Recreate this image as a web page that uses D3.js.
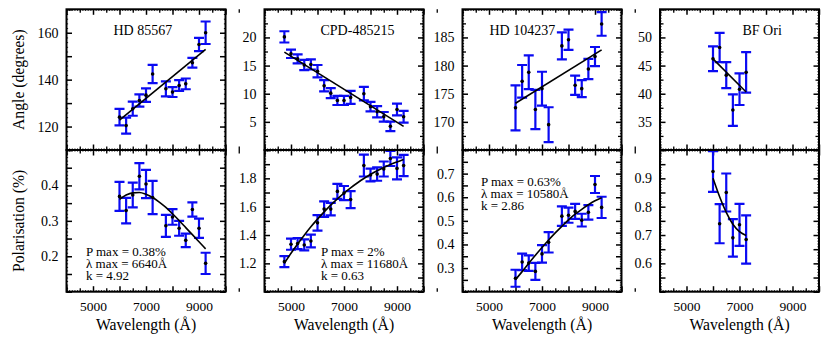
<!DOCTYPE html>
<html>
<head>
<meta charset="utf-8">
<script src="https://cdn.jsdelivr.net/npm/d3@7"></script>
<style>
  body { margin: 0; background: #fff; }
</style>
</head>
<body>
<div id="chart-area"></div>
<script>
// ---- data ----
const stars = ["HD 85567", "CPD-485215", "HD 104237", "BF Ori"]

// HD 85567
const hd85567Wave = [6000, 6250, 6500, 6750, 7000, 7250, 7750, 8000, 8250, 8500, 8750, 9000, 9250]
const hd85567Angle = [124.0, 120.4, 127.6, 131.1, 133.4, 142.4, 136.1, 134.7, 137.5, 138.2, 147.2, 155.0, 160.0]
const hd85567AngleErr = [3.5, 3.4, 3.0, 2.6, 2.9, 3.9, 3.2, 2.1, 2.3, 2.3, 2.1, 2.8, 4.8]
const hd85567Pol = [0.369, 0.329, 0.373, 0.426, 0.404, 0.366, 0.286, 0.311, 0.279, 0.245, 0.332, 0.279, 0.180]
const hd85567PolErr = [0.041, 0.036, 0.035, 0.037, 0.040, 0.047, 0.031, 0.022, 0.021, 0.019, 0.020, 0.027, 0.030]

// CPD-485215
const cpdWave = [4750, 5000, 5250, 5500, 5750, 6000, 6250, 6500, 6750, 7000, 7250, 7750, 8000, 8250, 8500, 8750, 9000, 9250]
const cpdAngle = [20.1, 17.1, 16.2, 15.1, 15.2, 14.0, 11.4, 10.1, 8.8, 8.8, 9.35, 10.0, 7.7, 6.8, 5.9, 4.2, 7.2, 5.9]
const cpdAngleErr = [1.0, 0.75, 0.8, 0.9, 0.9, 1.1, 1.0, 0.9, 0.8, 0.8, 1.15, 1.2, 0.85, 1.0, 0.85, 0.85, 1.05, 1.05]
const cpdPol = [1.212, 1.335, 1.34, 1.33, 1.358, 1.486, 1.583, 1.583, 1.708, 1.696, 1.65, 1.89, 1.824, 1.83, 1.866, 1.94, 1.87, 1.89]
const cpdPolErr = [0.039, 0.039, 0.039, 0.039, 0.045, 0.055, 0.055, 0.044, 0.053, 0.05, 0.06, 0.077, 0.045, 0.047, 0.053, 0.053, 0.078, 0.075]

// HD 104237
const hd104237Wave = [6000, 6250, 6500, 6750, 7000, 7250, 7750, 8000, 8250, 8500, 8750, 9000, 9250]
const hd104237Angle = [172.5, 177.2, 178.8, 172.2, 175.9, 169.5, 183.5, 184.6, 176.5, 175.9, 179.4, 181.6, 187.4]
const hd104237AngleErr = [4.0, 2.9, 3.0, 3.5, 3.0, 3.1, 2.4, 1.8, 1.7, 1.5, 1.8, 1.7, 2.1]
const hd104237Pol = [0.257, 0.326, 0.321, 0.286, 0.36, 0.409, 0.52, 0.524, 0.54, 0.503, 0.536, 0.654, 0.557]
const hd104237PolErr = [0.036, 0.035, 0.033, 0.036, 0.037, 0.043, 0.041, 0.032, 0.032, 0.027, 0.031, 0.036, 0.045]

// BF Ori
const bfOriWave = [6000, 6250, 6500, 6750, 7000, 7250]
const bfOriAngle = [46.2, 48.2, 43.3, 37.1, 40.8, 43.8]
const bfOriAngleErr = [2.2, 2.6, 2.3, 2.8, 2.8, 3.6]
const bfOriPol = [0.924, 0.740, 0.850, 0.690, 0.736, 0.684]
const bfOriPolErr = [0.072, 0.069, 0.067, 0.066, 0.074, 0.085]

// linear fits to the angle (end points)
const hd85567AngleFitWave = [6000, 9250]
const hd85567AngleFit = [122.7, 152.9]
const cpdAngleFitWave = [4750, 9250]
const cpdAngleFit = [17.4, 4.2]
const hd104237AngleFitWave = [6000, 9250]
const hd104237AngleFit = [173.3, 182.8]
const bfOriAngleFitWave = [6000, 7250]
const bfOriAngleFit = [46.2, 40.3]

// Serkowski fits
const hd85567PolFitWave = [6000, 6250, 6500, 6750, 7000, 7250, 7500, 7750, 8000, 8250, 8500, 8750, 9000, 9250]
const hd85567PolFit = [0.361, 0.373, 0.379, 0.380, 0.375, 0.366, 0.353, 0.338, 0.320, 0.301, 0.281, 0.261, 0.241, 0.221]
const cpdPolFitWave = [4750, 5000, 5250, 5500, 5750, 6000, 6250, 6500, 6750, 7000, 7250, 7500, 7750, 8000, 8250, 8500, 8750, 9000, 9250]
const cpdPolFit = [1.201, 1.271, 1.337, 1.399, 1.458, 1.512, 1.563, 1.611, 1.655, 1.696, 1.733, 1.767, 1.799, 1.827, 1.853, 1.877, 1.898, 1.916, 1.933]
const hd104237PolFitWave = [6000, 6250, 6500, 6750, 7000, 7250, 7500, 7750, 8000, 8250, 8500, 8750, 9000, 9250]
const hd104237PolFit = [0.251, 0.285, 0.320, 0.354, 0.387, 0.419, 0.449, 0.477, 0.504, 0.528, 0.549, 0.568, 0.585, 0.598]
const bfOriPolFitWave = [6000, 6250, 6500, 6750, 7000, 7250]
const bfOriPolFit = [0.900, 0.835, 0.780, 0.738, 0.712, 0.698]

// fit annotations
const fitNotes = [
  ["P max = 0.38%", "λ max = 6640Å", "k = 4.92"],
  ["P max = 2%", "λ max = 11680Å", "k = 0.63"],
  ["P max = 0.63%", "λ max = 10580Å", "k = 2.86"],
  []
]

// axis ticks
const waveDomain = [4000, 10000]
const waveLabels = [5000, 7000, 9000]
const angleDomains = [[110, 170], [0, 25], [165, 190], [30, 55]]
const angleLabels = [[120, 140, 160], [5, 10, 15, 20], [170, 175, 180, 185], [35, 40, 45, 50]]
const polDomains = [[0.1, 0.5], [1.0, 2.0], [0.2, 0.8], [0.5, 1.0]]
const polLabels = [[0.2, 0.3, 0.4], [1.2, 1.4, 1.6, 1.8], [0.3, 0.4, 0.5, 0.6, 0.7], [0.6, 0.7, 0.8, 0.9]]

// ---- layout ----
const FONT = "Liberation Serif"
const PANEL_X = [66.5, 264.5, 462.5, 660]
const PW = 159
const ROW_TOP = [9.3, 150]
const ROW_H = [140.7, 141.7]
const TITLE_X = [47, 56, 27, 82.5]
const NOTE_POS = [[19.5, 106], [56.5, 106], [18.5, 35.5], null]

const angleSets = [
  [hd85567Wave, hd85567Angle, hd85567AngleErr, hd85567AngleFitWave, hd85567AngleFit],
  [cpdWave, cpdAngle, cpdAngleErr, cpdAngleFitWave, cpdAngleFit],
  [hd104237Wave, hd104237Angle, hd104237AngleErr, hd104237AngleFitWave, hd104237AngleFit],
  [bfOriWave, bfOriAngle, bfOriAngleErr, bfOriAngleFitWave, bfOriAngleFit]
]
const polSets = [
  [hd85567Wave, hd85567Pol, hd85567PolErr, hd85567PolFitWave, hd85567PolFit],
  [cpdWave, cpdPol, cpdPolErr, cpdPolFitWave, cpdPolFit],
  [hd104237Wave, hd104237Pol, hd104237PolErr, hd104237PolFitWave, hd104237PolFit],
  [bfOriWave, bfOriPol, bfOriPolErr, bfOriPolFitWave, bfOriPolFit]
]

const svg = d3.select("#chart-area").append("svg")
  .attr("width", 830)
  .attr("height", 349)

function serif(sel, size) {
  return sel.attr("font-size", size).style("font-family", FONT).attr("fill", "#000")
}

function range(a, b, step) {
  const out = []
  const n = Math.round((b - a) / step)
  for (let i = 0; i <= n; i++) out.push(+(a + i * step).toFixed(6))
  return out
}

function addTicks(g, x, y, w, h, yLabels, yMajor, yMid, yFine, showXLabels) {
  const xMajor = range(waveDomain[0], waveDomain[1], 1000)
  const xMid = range(waveDomain[0] + 500, waveDomain[1], 1000)
  const xFine = range(waveDomain[0], waveDomain[1], 100)
  const yd = y.domain()
  const yMaj = range(yd[0], yd[1], yMajor)
  const yMd = yMid ? range(yd[0] + yMid, yd[1], yMajor) : []
  const yFn = range(yd[0], yd[1], yFine)

  const levels = [[xFine, yFn, 1.6, 0.9], [xMid, yMd, 3.5, 1.3], [xMajor, yMaj, 5.5, 1.5]]
  levels.forEach(([xv, yv, len, sw]) => {
    const axes = [
      [d3.axisBottom(x).tickValues(xv), `translate(0,${h})`],
      [d3.axisTop(x).tickValues(xv), "translate(0,0)"],
      [d3.axisLeft(y).tickValues(yv), "translate(0,0)"],
      [d3.axisRight(y).tickValues(yv), `translate(${w},0)`]
    ]
    axes.forEach(([ax, tr]) => {
      const a = g.append("g").attr("transform", tr)
        .call(ax.tickSize(-len).tickFormat(""))
      a.select(".domain").remove()
      a.selectAll("line").attr("stroke", "#000").attr("stroke-width", sw)
    })
  })

  // labels
  const yl = g.append("g")
    .call(d3.axisLeft(y).tickValues(yLabels).tickSize(0).tickPadding(8)
      .tickFormat(d => String(d)))
  yl.select(".domain").remove()
  yl.attr("font-family", null).attr("font-size", null)
  serif(yl.selectAll("text"), "14px")

  if (showXLabels) {
    const xl = g.append("g").attr("transform", `translate(0,${h})`)
      .call(d3.axisBottom(x).tickValues(waveLabels).tickSize(0).tickPadding(10)
        .tickFormat(d => String(d)))
    xl.select(".domain").remove()
    xl.attr("font-family", null).attr("font-size", null)
    serif(xl.selectAll("text"), "13.5px")
  }
}

function drawPanel(col, row) {
  const w = PW
  const h = ROW_H[row]
  const set = row === 0 ? angleSets[col] : polSets[col]
  const [wave, val, err, fitWave, fitVal] = set
  const yLabels = row === 0 ? angleLabels[col] : polLabels[col]

  const g = svg.append("g")
    .attr("transform", `translate(${PANEL_X[col]}, ${ROW_TOP[row]})`)

  const x = d3.scaleLinear().domain(waveDomain).range([0, w])
  const y = d3.scaleLinear().domain(row === 0 ? angleDomains[col] : polDomains[col]).range([h, 0])

  let yMajor, yMid, yFine
  if (row === 0 && col === 0) { yMajor = 10; yMid = 0; yFine = 2 }
  else if (row === 0) { yMajor = 5; yMid = 2.5; yFine = 0.5 }
  else if (col === 1) { yMajor = 0.1; yMid = 0; yFine = 0.02 }
  else { yMajor = 0.05; yMid = 0; yFine = 0.01 }

  addTicks(g, x, y, w, h, yLabels, yMajor, yMid, yFine, row === 1)

  const pts = wave.map((wl, i) => ({ wl, v: val[i], e: err[i] }))

  const clip = `clip-${col}-${row}`
  g.append("clipPath").attr("id", clip)
    .append("rect").attr("width", w).attr("height", h)
  const plot = g.append("g").attr("clip-path", `url(#${clip})`)

  // error bars
  const bars = plot.selectAll(".err").data(pts).enter().append("g")
    .attr("stroke", "#0a0af2").attr("stroke-width", 2.2).attr("fill", "none")
  bars.append("line")
    .attr("x1", d => x(d.wl)).attr("x2", d => x(d.wl))
    .attr("y1", d => y(d.v - d.e)).attr("y2", d => y(d.v + d.e))
  bars.append("line")
    .attr("x1", d => x(d.wl) - 5).attr("x2", d => x(d.wl) + 5)
    .attr("y1", d => y(d.v - d.e)).attr("y2", d => y(d.v - d.e))
  bars.append("line")
    .attr("x1", d => x(d.wl) - 5).attr("x2", d => x(d.wl) + 5)
    .attr("y1", d => y(d.v + d.e)).attr("y2", d => y(d.v + d.e))

  // fit
  const fit = fitWave.map((wl, i) => [wl, fitVal[i]])
  const line = d3.line().x(d => x(d[0])).y(d => y(d[1])).curve(d3.curveMonotoneX)
  plot.append("path").datum(fit)
    .attr("d", line)
    .attr("fill", "none").attr("stroke", "#000").attr("stroke-width", 1.6)

  // points
  plot.selectAll(".pt").data(pts).enter().append("circle")
    .attr("cx", d => x(d.wl)).attr("cy", d => y(d.v)).attr("r", 1.8)
    .attr("fill", "#000")

  // frame
  g.append("rect").attr("width", w).attr("height", h)
    .attr("fill", "none").attr("stroke", "#000").attr("stroke-width", 2)

  if (row === 0) {
    serif(g.append("text").attr("x", TITLE_X[col]).attr("y", 25.7), "14px")
      .text(stars[col])
  } else {
    const np = NOTE_POS[col]
    if (np) {
      fitNotes[col].forEach((t, i) => {
        serif(g.append("text").attr("x", np[0]).attr("y", np[1] + i * 12), "13px")
          .text(t)
      })
    }
    serif(g.append("text").attr("x", w / 2).attr("y", 330 - ROW_TOP[1])
      .attr("text-anchor", "middle"), "15.7px")
      .text("Wavelength (Å)")
  }
}

for (let col = 0; col < 4; col++) {
  drawPanel(col, 0)
  drawPanel(col, 1)
}

// y axis titles
serif(svg.append("text")
  .attr("transform", `translate(24, ${ROW_TOP[0] + ROW_H[0] / 2}) rotate(-90)`)
  .attr("text-anchor", "middle"), "15.7px")
  .text("Angle (degrees)")
serif(svg.append("text")
  .attr("transform", `translate(24, ${ROW_TOP[1] + ROW_H[1] / 2}) rotate(-90)`)
  .attr("text-anchor", "middle"), "15.7px")
  .text("Polarisation (%)")
</script>
</body>
</html>
